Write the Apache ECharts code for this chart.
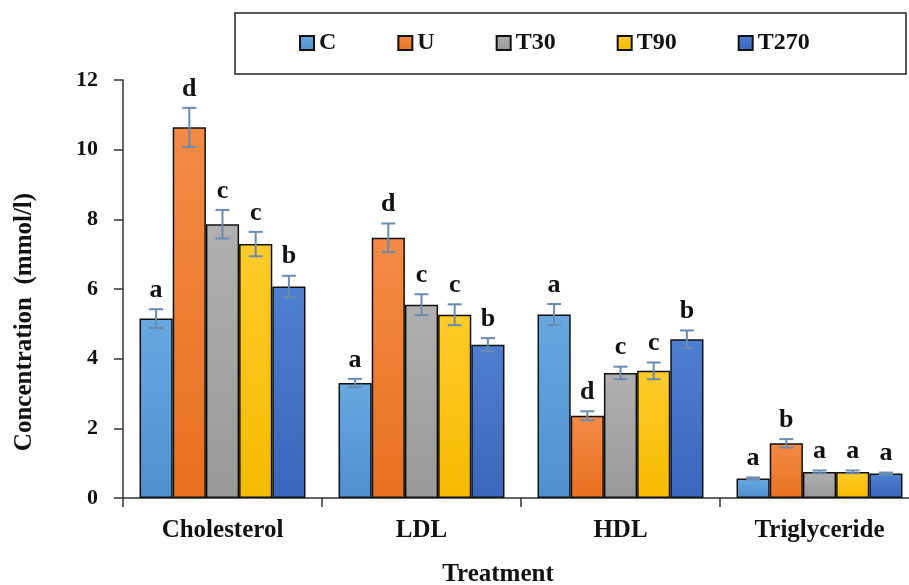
<!DOCTYPE html>
<html>
<head>
<meta charset="utf-8">
<script src="https://cdn.jsdelivr.net/npm/echarts@6/dist/echarts.min.js"></script>
<style>html,body{margin:0;padding:0;background:#fff;overflow:hidden;width:909px;height:585px;}#chart{width:920px;height:585px;}</style>
</head>
<body>
<div id="chart"></div>
<script>
var categories = ['Cholesterol', 'LDL', 'HDL', 'Triglyceride'];
var seriesNames = ['C', 'U', 'T30', 'T90', 'T270'];
var yTicks = [0, 2, 4, 6, 8, 10, 12];

var valC    = [5.15, 3.30, 5.27, 0.56];
var valU    = [10.64, 7.47, 2.36, 1.57];
var valT30  = [7.86, 5.55, 3.59, 0.75];
var valT90  = [7.29, 5.26, 3.65, 0.75];
var valT270 = [6.07, 4.40, 4.56, 0.70];

var errC    = [0.27, 0.12, 0.30, 0.03];
var errU    = [0.56, 0.41, 0.13, 0.12];
var errT30  = [0.41, 0.30, 0.18, 0.04];
var errT90  = [0.35, 0.30, 0.24, 0.04];
var errT270 = [0.31, 0.19, 0.25, 0.03];

var lettersC    = ['a', 'a', 'a', 'a'];
var lettersU    = ['d', 'd', 'd', 'b'];
var lettersT30  = ['c', 'c', 'c', 'a'];
var lettersT90  = ['c', 'c', 'c', 'a'];
var lettersT270 = ['b', 'b', 'b', 'a'];

var values = [valC, valU, valT30, valT90, valT270];
var errors = [errC, errU, errT30, errT90, errT270];
var letters = [lettersC, lettersU, lettersT30, lettersT90, lettersT270];
var colorsTop = ['#67a8e2', '#f48a46', '#b0b0b0', '#ffcb2a', '#4f7fd0'];
var colorsBot = ['#4f8fcf', '#e8711f', '#999999', '#f5ba00', '#3a66bd'];

var FONT = "'Liberation Serif', 'Times New Roman', serif";
var CAT_GAP = 0.166;

var chart = echarts.init(document.getElementById('chart'));
var series = [];
seriesNames.forEach(function (name, s) {
  series.push({
    name: name,
    type: 'bar',
    barGap: '0%',
    barCategoryGap: (CAT_GAP * 100) + '%',
    data: values[s],
    itemStyle: {
      color: new echarts.graphic.LinearGradient(0, 0, 0, 1, [
        {offset: 0, color: colorsTop[s]}, {offset: 1, color: colorsBot[s]}
      ]),
      borderColor: '#111',
      borderWidth: 1.5
    },
    z: 2
  });
});
seriesNames.forEach(function (name, s) {
  series.push({
    name: name + ' error',
    type: 'custom',
    z: 5,
    clip: false,
    data: values[s].map(function (v, i) { return [i, v, errors[s][i]]; }),
    encode: {x: 0, y: 1},
    renderItem: function (params, api) {
      var ci = api.value(0), v = api.value(1), e = api.value(2);
      var center = api.coord([ci, v]);
      var bandW = api.size([1, 0])[0];
      var groupW = bandW * (1 - CAT_GAP);
      var barW = groupW / 5;
      var x = center[0] - groupW / 2 + barW * (s + 0.5);
      var top = api.coord([ci, v + e])[1];
      var bot = api.coord([ci, v - e])[1];
      var cap = 7;
      var ls = {stroke: '#6a8bb0', lineWidth: 2};
      return {
        type: 'group',
        children: [
          {type: 'line', shape: {x1: x, y1: top, x2: x, y2: bot}, style: ls},
          {type: 'line', shape: {x1: x - cap, y1: top, x2: x + cap, y2: top}, style: ls},
          {type: 'line', shape: {x1: x - cap, y1: bot, x2: x + cap, y2: bot}, style: ls},
          {type: 'text', x: x, y: top - 6, style: {
            text: letters[s][params.dataIndex], fill: '#111',
            font: 'bold 26px ' + FONT, align: 'center', verticalAlign: 'bottom'
          }}
        ]
      };
    }
  });
});

chart.setOption({
  animation: false,
  backgroundColor: '#fff',
  grid: {left: 123, top: 80, width: 796, height: 418, containLabel: false},
  legend: {
    data: seriesNames,
    left: 299, top: 31,
    padding: 0,
    itemGap: 61,
    itemWidth: 14, itemHeight: 14,
    icon: 'rect',
    textStyle: {fontFamily: FONT, fontWeight: 'bold', fontSize: 24, color: '#111', padding: [0, 0, 0, 0]}
  },
  graphic: [
    {type: 'rect', shape: {x: 235, y: 13, width: 671, height: 61},
     style: {fill: 'none', stroke: '#222', lineWidth: 1.5}, z: 0},
    {type: 'text', x: 25, y: 322, rotation: Math.PI / 2,
     style: {text: 'Concentration  (mmol/l)', font: 'bold 25px ' + FONT, fill: '#111', align: 'center', verticalAlign: 'middle'}},
    {type: 'text', x: 498, y: 575,
     style: {text: 'Treatment', font: 'bold 25px ' + FONT, fill: '#111', align: 'center', verticalAlign: 'middle'}}
  ],
  xAxis: {
    type: 'category',
    data: categories,
    axisLine: {lineStyle: {color: '#333', width: 1.5}},
    axisTick: {show: true, length: 9, lineStyle: {color: '#333', width: 1.5}},
    axisLabel: {fontFamily: FONT, fontWeight: 'bold', fontSize: 25, color: '#111', margin: 20},
    splitLine: {show: false}
  },
  yAxis: {
    type: 'value',
    min: yTicks[0], max: yTicks[yTicks.length - 1], interval: 2,
    axisLine: {show: true, lineStyle: {color: '#333', width: 1.5}},
    axisTick: {show: true, length: 9, lineStyle: {color: '#333', width: 1.5}},
    axisLabel: {fontFamily: FONT, fontWeight: 'bold', fontSize: 22, color: '#111', margin: 25},
    splitLine: {show: false}
  },
  series: series
});
</script>
</body>
</html>
